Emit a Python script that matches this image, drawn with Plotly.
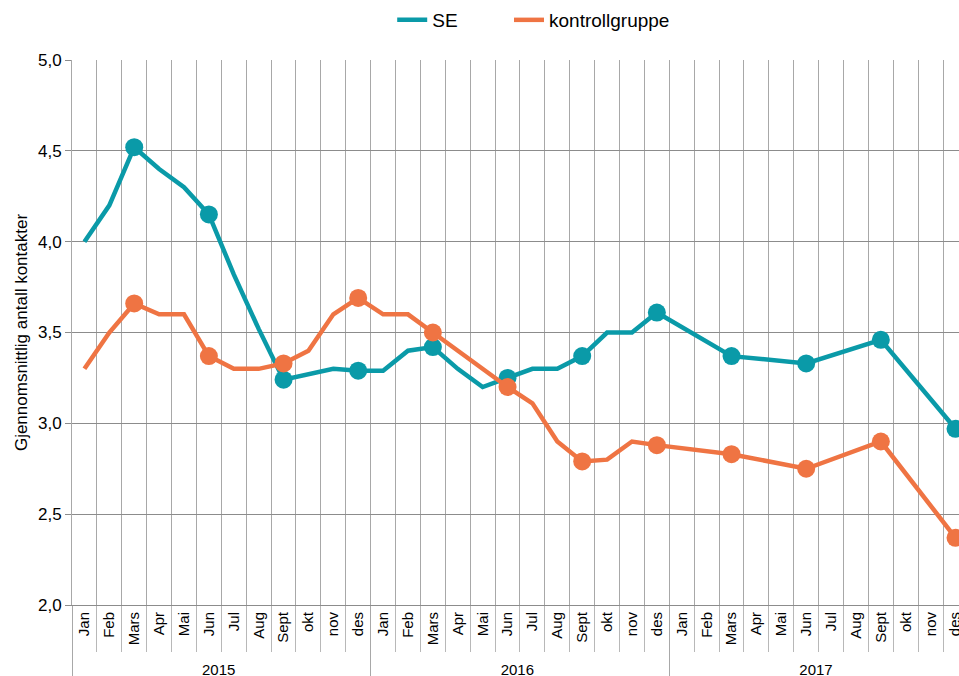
import plotly.graph_objects as go

years = ["2015", "2016", "2017"]
months = ["Jan", "Feb", "Mars", "Apr", "Mai", "Jun", "Jul", "Aug", "Sept", "okt", "nov", "des"]
marker_months = ["Mars", "Jun", "Sept", "des"]

se_values = [
    4.00, 4.20, 4.52, 4.40, 4.30, 4.15, 3.82, 3.52, 3.24, 3.27, 3.30, 3.29,
    3.29, 3.40, 3.42, 3.30, 3.20, 3.25, 3.30, 3.30, 3.37, 3.50, 3.50, 3.61,
    None, None, 3.37, None, None, 3.33, None, None, 3.46, None, None, 2.97,
]
kontroll_values = [
    3.30, 3.50, 3.66, 3.60, 3.60, 3.37, 3.30, 3.30, 3.33, 3.40, 3.60, 3.69,
    3.60, 3.60, 3.50, 3.40, 3.30, 3.20, 3.11, 2.90, 2.79, 2.80, 2.90, 2.88,
    None, None, 2.83, None, None, 2.75, None, None, 2.90, None, None, 2.37,
]

x_year = [y for y in years for m in months]
x_month = [m for y in years for m in months]

TEAL = "#0A9AA8"
ORANGE = "#EF7443"
FONT = "Liberation Sans, Arial, sans-serif"

fig = go.Figure()

for name, vals, col, leg in [("SE", se_values, TEAL, "legend"),
                             ("kontrollgruppe", kontroll_values, ORANGE, "legend2")]:
    fig.add_trace(go.Scatter(
        x=[x_year, x_month], y=vals, name=name, mode="lines", legend=leg,
        connectgaps=True, line=dict(color=col, width=4.5),
    ))
    idx = [i for i, m in enumerate(x_month) if m in marker_months and vals[i] is not None]
    fig.add_trace(go.Scatter(
        x=[[x_year[i] for i in idx], [x_month[i] for i in idx]],
        y=[vals[i] for i in idx], mode="markers", showlegend=False,
        marker=dict(color=col, size=18), hoverinfo="skip",
    ))

legend_common = dict(orientation="h", xanchor="left", y=1.0734, yanchor="middle",
                     font=dict(size=19), itemwidth=30, bgcolor="rgba(0,0,0,0)")

fig.update_layout(
    width=959, height=676,
    margin=dict(l=72, r=0, t=60, b=71),
    paper_bgcolor="white", plot_bgcolor="white",
    font=dict(family=FONT, size=16, color="#000"),
    separators=", ",
    legend=dict(x=0.361, **legend_common),
    legend2=dict(x=0.4927, **legend_common),
    xaxis=dict(
        type="multicategory", range=[-0.5, 35.14], automargin=False,
        tickson="boundaries", showgrid=True, gridcolor="#a8a8a8", gridwidth=1,
        ticks="outside", ticklen=46, tickcolor="#b8b8b8",
        tickangle=-90, tickfont=dict(size=15),
        showdividers=True, dividercolor="#a8a8a8", dividerwidth=1,
        showline=True, linecolor="#8c8c8c",
    ),
    yaxis=dict(
        range=[2.0, 5.0], dtick=0.5, tickformat=".1f", automargin=False,
        showgrid=True, gridcolor="#8c8c8c", gridwidth=1,
        zeroline=False, showline=True, linecolor="#a8a8a8",
        ticks="outside", ticklen=6, tickcolor="#8c8c8c", tickfont=dict(size=17),
        title=dict(text="Gjennomsnittlig antall kontakter", font=dict(size=17), standoff=6),
    ),
)

fig.write_html("out.html", config={"displayModeBar": False},
               post_script="document.body.style.margin='0';")
